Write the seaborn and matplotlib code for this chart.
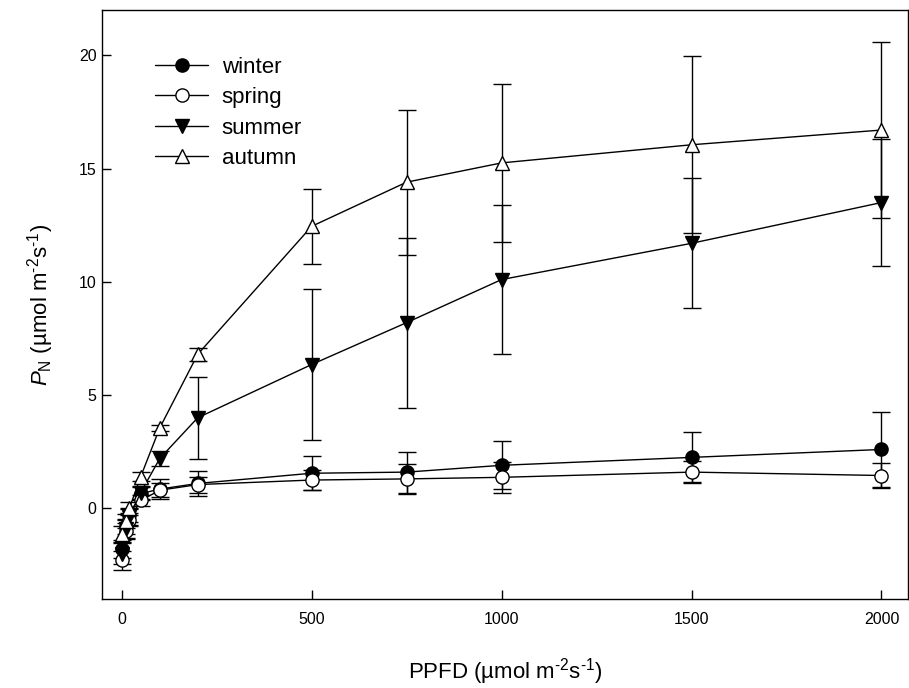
import numpy as np
import pandas as pd
import matplotlib
matplotlib.use("Agg")
import matplotlib.pyplot as plt
import seaborn as sns

# PPFD levels (umol m-2 s-1)
ppfd = [0, 10, 20, 50, 100, 200, 500, 750, 1000, 1500, 2000]

# net photosynthesis, mean and error per season
winter = [-1.8, -0.8, -0.3, 0.65, 0.85, 1.1, 1.55, 1.6, 1.9, 2.25, 2.6]
winter_err = [0.4, 0.35, 0.3, 0.3, 0.45, 0.55, 0.75, 0.9, 1.06, 1.1, 1.65]
spring = [-2.3, -1.0, -0.5, 0.35, 0.8, 1.05, 1.25, 1.3, 1.37, 1.6, 1.45]
spring_err = [0.4, 0.35, 0.3, 0.25, 0.3, 0.35, 0.45, 0.65, 0.67, 0.5, 0.55]
summer = [-2.0, -0.9, -0.4, 0.7, 2.2, 4.0, 6.35, 8.2, 10.1, 11.7, 13.5]
summer_err = [0.45, 0.4, 0.35, 0.3, 0.35, 1.8, 3.35, 3.75, 3.3, 2.87, 2.8]
autumn = [-1.15, -0.55, 0.0, 1.4, 3.55, 6.8, 12.45, 14.4, 15.25, 16.05, 16.7]
autumn_err = [0.35, 0.3, 0.3, 0.2, 0.15, 0.3, 1.65, 3.2, 3.5, 3.9, 3.9]

seasons = ["winter", "spring", "summer", "autumn"]
means = [winter, spring, summer, autumn]
errs = [winter_err, spring_err, summer_err, autumn_err]
markers = ["o", "o", "v", "^"]
faces = ["black", "white", "black", "white"]

df = pd.concat(
    [pd.DataFrame({"ppfd": ppfd, "pn": m, "err": e, "season": s})
     for s, m, e in zip(seasons, means, errs)],
    ignore_index=True,
)

sns.set_style("ticks")
plt.rcParams["font.family"] = ["Liberation Sans", "DejaVu Sans"]
plt.rcParams["mathtext.fontset"] = "custom"
plt.rcParams["mathtext.rm"] = "Liberation Sans"
plt.rcParams["mathtext.it"] = "Liberation Sans:italic"
plt.rcParams["text.color"] = "black"
plt.rcParams["axes.labelcolor"] = "black"
plt.rcParams["xtick.color"] = "black"
plt.rcParams["ytick.color"] = "black"

fig, ax = plt.subplots(figsize=(9.09, 6.88), dpi=100)
fig.subplots_adjust(left=0.1122, right=0.999, bottom=0.1294, top=0.9855)

for s, mk, fc in zip(seasons, markers, faces):
    sub = df[df["season"] == s]
    ax.errorbar(sub["ppfd"], sub["pn"], yerr=sub["err"], fmt="none",
                ecolor="black", elinewidth=1, capsize=6.5, capthick=1, zorder=2)
    sns.lineplot(data=sub, x="ppfd", y="pn", ax=ax, color="black", lw=1,
                 marker=mk, markersize=9.5 if mk == "o" else 10.5,
                 markerfacecolor=fc, markeredgecolor="black",
                 markeredgewidth=1, label=s, zorder=3)

ax.set_xlim(-52, 2070)
ax.set_ylim(-4, 22)
ax.set_xticks([0, 500, 1000, 1500, 2000])
ax.set_yticks([0, 5, 10, 15, 20])
ax.tick_params(direction="in", length=6.5, width=1, labelsize=11.5)
ax.tick_params(axis="x", pad=9.5)
ax.tick_params(axis="y", pad=4)
for sp in ax.spines.values():
    sp.set_linewidth(1)
    sp.set_color("black")

ax.set_xlabel(r"PPFD (µmol m$^{\text{-}2}$s$^{\text{-}1}$)", fontsize=16,
              labelpad=21)
ax.set_ylabel(r"$\mathit{P}_{\rm N}$ (µmol m$^{\text{-}2}$s$^{\text{-}1}$)",
              fontsize=16, labelpad=16)

ax.legend(loc="upper left", bbox_to_anchor=(0.0658, 0.921), frameon=False,
          fontsize=16, handlelength=2.4, handletextpad=0.6,
          labelspacing=0.43, borderpad=0, borderaxespad=0)

fig.savefig("out.png", dpi=100)
